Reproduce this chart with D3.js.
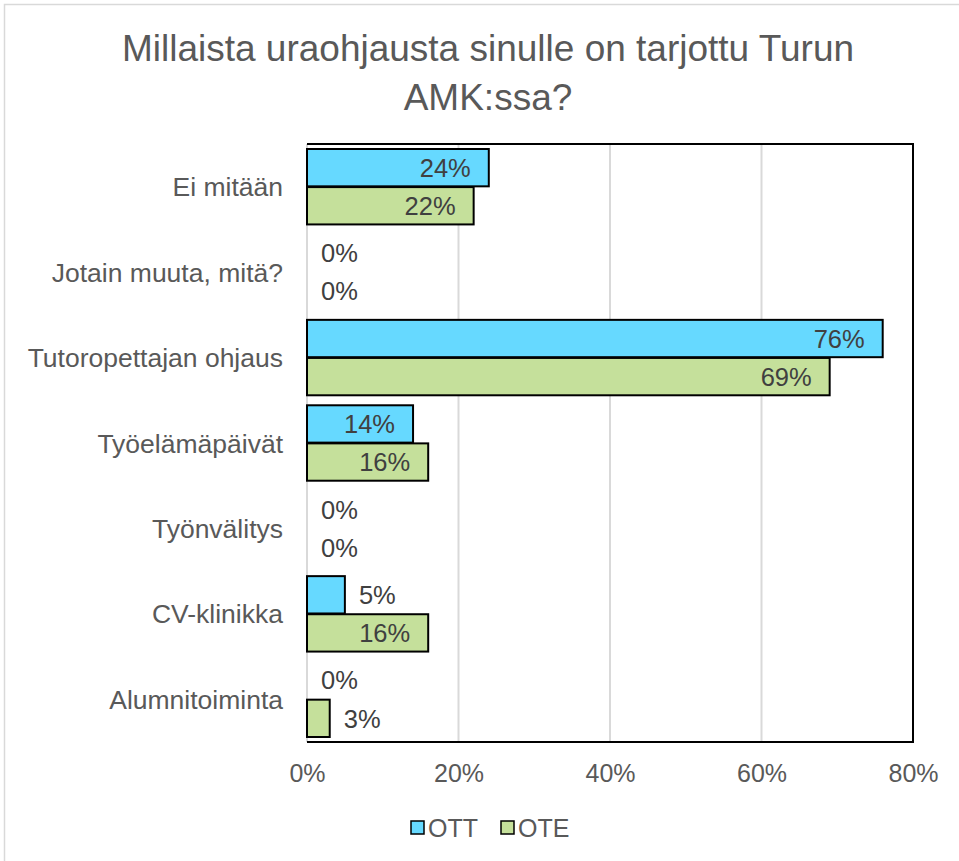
<!DOCTYPE html>
<html><head><meta charset="utf-8">
<script src="https://cdn.jsdelivr.net/npm/d3@7"></script>
<style>body{margin:0;background:#fff}svg{display:block}text{font-family:"Liberation Sans",Arial,sans-serif}</style>
</head><body>
<svg id="c" width="959" height="861"></svg>
<script>
const categories = ["Ei mitään","Jotain muuta, mitä?","Tutoropettajan ohjaus","Työelämäpäivät","Työnvälitys","CV-klinikka","Alumnitoiminta"];
const seriesNames = ["OTT","OTE"];
const ottValues = [24,0,76,14,0,5,0];
const oteValues = [22,0,69,16,0,16,3];
const xTicks = [0,20,40,60,80];
const colors = ["#66D9FF","#C5E09B"];

const svg = d3.select("#c");
svg.append("rect").attr("x",4.5).attr("y",4.5).attr("width",980).attr("height",900)
  .attr("fill","none").attr("stroke","#d9d9d9").attr("stroke-width",1.5);

const title = svg.append("text").attr("text-anchor","middle").attr("fill","#595959").attr("font-size",37);
title.append("tspan").attr("x",488).attr("y",61).text("Millaista uraohjausta sinulle on tarjottu Turun");
title.append("tspan").attr("x",488).attr("y",110).text("AMK:ssa?");

const L=307, R=913, T=144, B=742;
const x = d3.scaleLinear().domain([0,80]).range([L,R]);
const data = categories.map((c,i)=>({c, vals:[ottValues[i],oteValues[i]]}));
const band = (B-T)/categories.length;
const y0 = d3.scaleBand().domain(categories).range([T,B]).padding(0);
const sub = d3.scaleBand().domain(seriesNames).range([5, band-5]).paddingInner(0.02);

svg.append("g").selectAll("line").data(xTicks.slice(0,-1)).join("line")
  .attr("x1",d=>x(d)).attr("x2",d=>x(d)).attr("y1",T).attr("y2",B)
  .attr("stroke","#d9d9d9").attr("stroke-width",2);

const g = svg.append("g");
data.forEach(d=>{
  d.vals.forEach((v,si)=>{
    const yy = y0(d.c)+sub(seriesNames[si]);
    const h = sub.bandwidth();
    if(v>0){
      g.append("rect").attr("x",x(0)).attr("y",yy).attr("width",x(v)-x(0)).attr("height",h)
        .attr("fill",colors[si]).attr("stroke","#000").attr("stroke-width",2);
    }
    const inside = v>=10;
    g.append("text").attr("x", inside ? x(v)-18 : x(v)+14)
      .attr("y", yy+h/2).attr("dy","0.36em")
      .attr("text-anchor", inside ? "end":"start")
      .attr("font-size",25.5).attr("fill","#404040").text(v+"%");
  });
});

svg.append("path").attr("d",`M${L},${T}H${R}V${B}H${L}`).attr("fill","none").attr("stroke","#000").attr("stroke-width",2);

svg.append("g").selectAll("text").data(categories).join("text")
  .attr("x",L-24).attr("y",d=>y0(d)+band/2).attr("dy","0.36em").attr("text-anchor","end")
  .attr("font-size",26.5).attr("fill","#595959").text(d=>d);

const xAxis = d3.axisBottom(x).tickValues(xTicks).tickFormat(d=>d+"%").tickSize(0).tickPadding(22);
const ax = svg.append("g").attr("transform",`translate(0,${B})`).call(xAxis);
ax.select(".domain").remove();
ax.selectAll("text").attr("font-size",25).attr("fill","#595959").attr("font-family","Liberation Sans, Arial, sans-serif");

const leg = svg.append("g");
const legX = [411, 501];
seriesNames.forEach((n,i)=>{
  leg.append("rect").attr("x",legX[i]).attr("y",821).attr("width",13).attr("height",13)
    .attr("fill",colors[i]).attr("stroke","#000").attr("stroke-width",1.5);
  leg.append("text").attr("x",legX[i]+17).attr("y",828).attr("dy","0.36em")
    .attr("font-size",25).attr("fill","#595959").text(n);
});
</script>
</body></html>
